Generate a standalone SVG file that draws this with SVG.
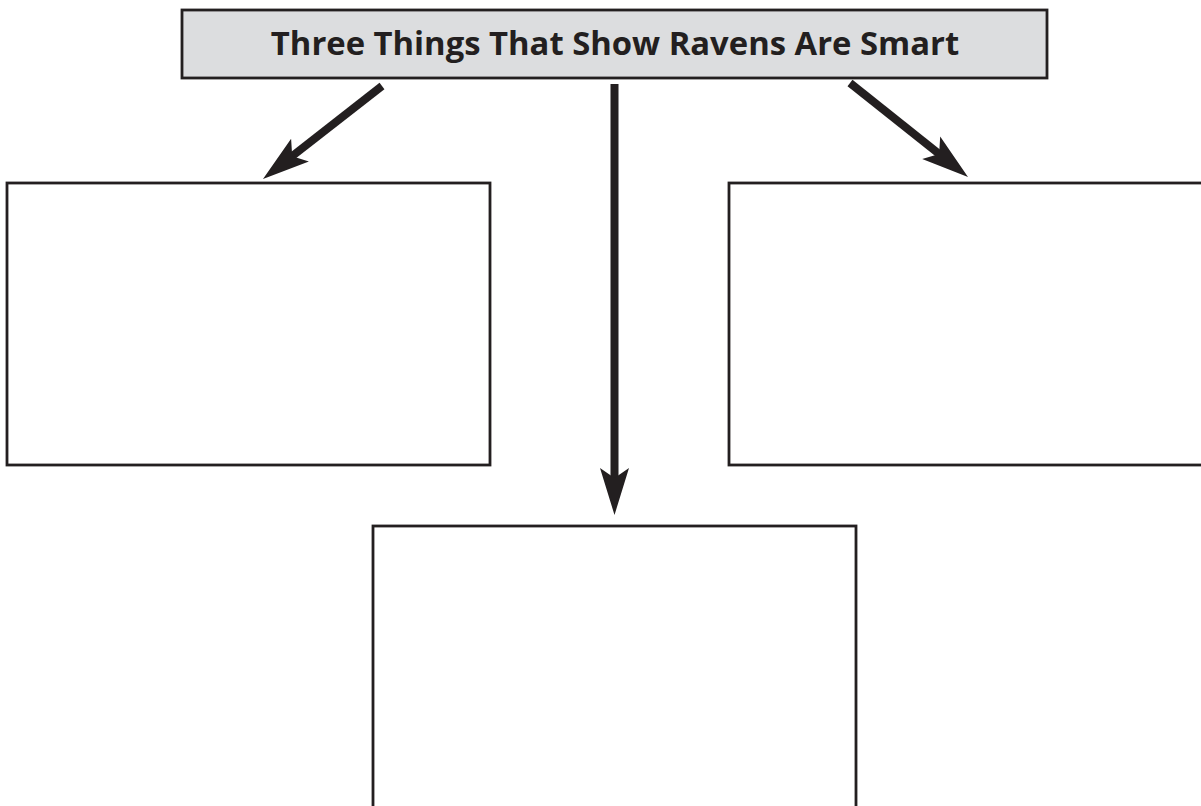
<svg xmlns="http://www.w3.org/2000/svg" width="1201" height="806" viewBox="0 0 1201 806">
<style>
.box{fill:#ffffff;stroke:#231f20;stroke-width:2.8}
.title{fill:#dcdddf;stroke:#231f20;stroke-width:2.8}
.t{font-family:"Open Sans","Noto Sans",sans-serif;font-weight:bold;font-size:32.8px;fill:#231f20}
.shaft{stroke:#231f20;stroke-width:8;fill:none}
.head{fill:#231f20}
</style>
<rect width="1201" height="806" fill="#ffffff"/>
<g id="title">
<rect class="title" x="182" y="10" width="865" height="68"/>
<text class="t" x="615" y="55" text-anchor="middle">Three Things That Show Ravens Are Smart</text>
</g>
<g id="box-left"><rect class="box" x="7" y="183" width="483" height="282"/></g>
<g id="box-right"><rect class="box" x="729" y="183" width="490" height="282"/></g>
<g id="box-bottom"><rect class="box" x="373" y="526" width="483" height="300"/></g>
<g id="connectors">
<line class="shaft" x1="382" y1="86" x2="290.6" y2="157.4"/>
<polygon class="head" points="263,179 291.1,138.7 292.2,156.2 308.9,161.5"/>
<line class="shaft" x1="614.5" y1="84" x2="614.5" y2="480"/>
<polygon class="head" points="614.5,515 600,468 614.5,478 629,468"/>
<line class="shaft" x1="850" y1="83" x2="940.6" y2="155.2"/>
<polygon class="head" points="968,177 940.2,136.4 939.1,153.9 922.2,159"/>
</g>
</svg>
